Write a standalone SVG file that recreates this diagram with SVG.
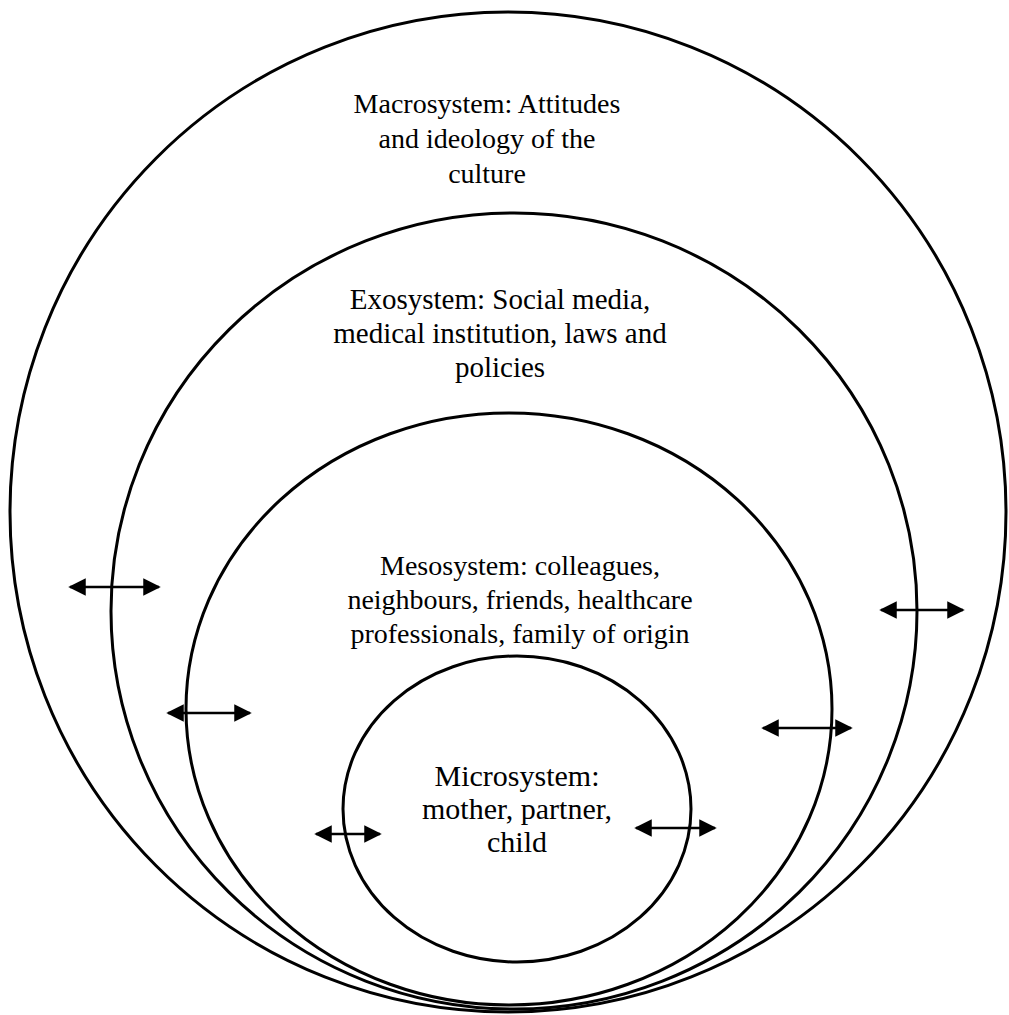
<svg xmlns="http://www.w3.org/2000/svg" width="1009" height="1015" viewBox="0 0 1009 1015">
<style>
.ring{fill:none;stroke:#000;stroke-width:3}
.lbl{font-family:"Liberation Serif","Times New Roman",serif;font-size:28px;fill:#000;text-anchor:middle}
.arr{stroke:#000;stroke-width:2.5;fill:none;marker-start:url(#ah);marker-end:url(#ah)}
</style>
<defs>
<marker id="ah" viewBox="0 0 10 10" refX="9" refY="5" markerWidth="7" markerHeight="7" markerUnits="strokeWidth" orient="auto-start-reverse">
<path d="M0,0 L10,5 L0,10 z" fill="#000"/>
</marker>
</defs>
<rect width="1009" height="1015" fill="#fff"/>
<g id="macrosystem">
<ellipse class="ring" cx="508" cy="512" rx="498" ry="500"/>
<text class="lbl"><tspan x="487" y="113">Macrosystem: Attitudes</tspan><tspan x="487" y="148">and ideology of the</tspan><tspan x="487" y="183">culture</tspan></text>
</g>
<g id="exosystem">
<ellipse class="ring" cx="514" cy="611" rx="403" ry="398"/>
<text class="lbl" style="font-size:29px"><tspan x="500" y="309">Exosystem: Social media,</tspan><tspan x="500" y="343">medical institution, laws and</tspan><tspan x="500" y="377">policies</tspan></text>
</g>
<g id="mesosystem">
<ellipse class="ring" cx="509" cy="709" rx="323" ry="296"/>
<text class="lbl"><tspan x="520" y="575">Mesosystem: colleagues,</tspan><tspan x="520" y="609">neighbours, friends, healthcare</tspan><tspan x="520" y="643">professionals, family of origin</tspan></text>
</g>
<g id="microsystem">
<ellipse class="ring" cx="517" cy="809" rx="174" ry="153"/>
<text class="lbl" style="font-size:30px"><tspan x="517" y="786">Microsystem:</tspan><tspan x="517" y="819">mother, partner,</tspan><tspan x="517" y="852">child</tspan></text>
</g>
<g id="connectors">
<line class="arr" x1="70" y1="587" x2="159" y2="587"/>
<line class="arr" x1="168" y1="713" x2="250" y2="713"/>
<line class="arr" x1="881" y1="610" x2="963" y2="610"/>
<line class="arr" x1="763" y1="728" x2="851" y2="728"/>
<line class="arr" x1="316" y1="834" x2="380" y2="834"/>
<line class="arr" x1="636" y1="828" x2="715" y2="828"/>
</g>
</svg>
